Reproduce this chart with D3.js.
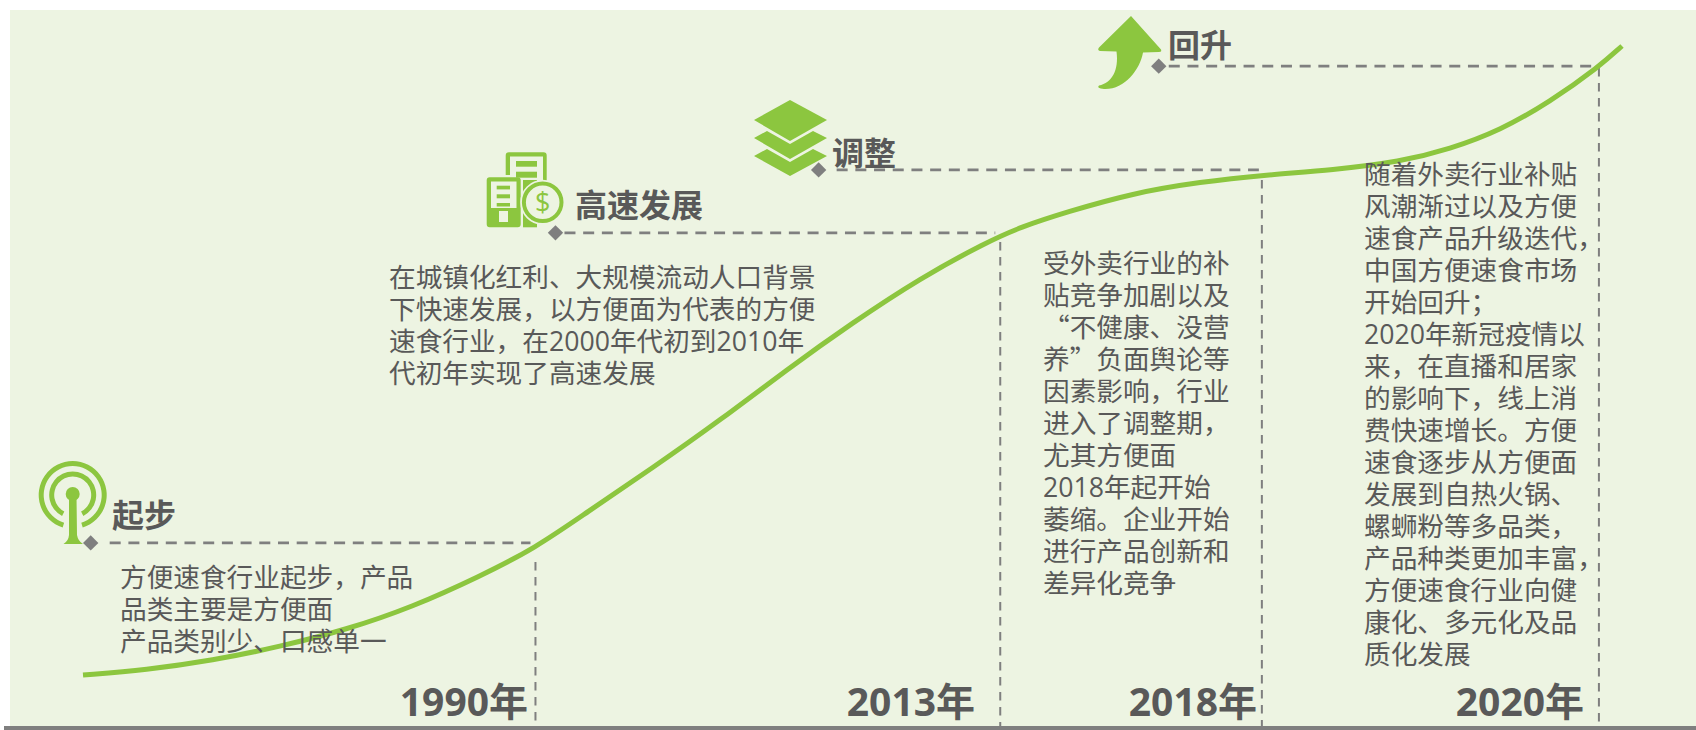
<!DOCTYPE html>
<html>
<head>
<meta charset="utf-8">
<script src="https://cdn.jsdelivr.net/npm/d3@7"></script>
<style>
    html, body { margin: 0; padding: 0; background: #fff; overflow: hidden; }
    svg { display: block; }
    text { font-family: "Open Sans", "Noto Sans CJK SC", sans-serif; fill: #595959; }
    .body-text { font-size: 26.67px; }
    .body-text.quoted { font-family: "Noto Sans CJK SC", sans-serif; }
    .phase-title { font-size: 32px; font-weight: 700; }
    .year-label { font-size: 39px; font-weight: 700; text-anchor: end; }
</style>
</head>
<body>
<svg id="chart"></svg>
<script>
const curveX = [0, 4.1, 8.4, 12.8, 17.1, 21.4, 25.8, 29.4, 32.7, 37, 41.4, 45.7, 50, 54.4, 58.7, 60.9, 63.9, 68.2, 72.6, 76.9, 81.2, 85.6, 88.8, 92.1, 95.3, 98.5, 100];
const curveY = [0, 0.8, 2.3, 4.5, 7.2, 10.8, 15.7, 20.2, 25.8, 32.9, 40.5, 48.5, 56, 63.1, 68.8, 71.2, 73.6, 76.6, 78.4, 79.5, 80.3, 81.6, 83.6, 86.6, 91.1, 96.7, 100];

const phaseNames = ['起步', '高速发展', '调整', '回升'];
const phaseYears = ['1990年', '2013年', '2018年', '2020年'];
// where each phase ends on the curve
const phaseEndX = [29.4, 59.6, 76.6, 98.5];
const phaseLevel = [21, 70.3, 80.3, 96.8];
// where the leader line of each phase starts
const phaseStartX = [0.5, 30.7, 47.8, 69.9];

const phaseText = [
    ['方便速食行业起步，产品', '品类主要是方便面', '产品类别少、口感单一'],
    ['在城镇化红利、大规模流动人口背景', '下快速发展，以方便面为代表的方便', '速食行业，在2000年代初到2010年', '代初年实现了高速发展'],
    ['受外卖行业的补', '贴竞争加剧以及', '“不健康、没营', '养”负面舆论等', '因素影响，行业', '进入了调整期，', '尤其方便面', '2018年起开始', '萎缩。企业开始', '进行产品创新和', '差异化竞争'],
    ['随着外卖行业补贴', '风潮渐过以及方便', '速食产品升级迭代，', '中国方便速食市场', '开始回升；', '2020年新冠疫情以', '来，在直播和居家', '的影响下，线上消', '费快速增长。方便', '速食逐步从方便面', '发展到自热火锅、', '螺蛳粉等多品类，', '产品种类更加丰富，', '方便速食行业向健', '康化、多元化及品', '质化发展']
];

const config = {
    width: 1696, height: 730,
    panel: {x: 10, y: 10},
    baseY: 726,
    lineHeight: 32,
    green: '#8cc63f',
    grey: '#7f7f7f',
    panelFill: '#edf4e2',
    // label offsets per phase
    titlePos: [[112, 515], [575, 205], [832, 153], [1168, 45]],
    yearRight: [528, 975, 1257, 1584],
    yearBaseline: 716,
    textPos: [[120, 577], [389, 277], [1043, 263], [1364, 174]],
    dropTop: [562, 242, 180, 68],
    leaderStart: [19, 9, 18, 10],
    leaderGap: [5, 5, 3, 0]
};

const svg = d3.select('#chart')
    .attr('width', config.width)
    .attr('height', config.height);

const xScale = d3.scaleLinear().domain([0, 100]).range([83, 1622]);
const yScale = d3.scaleLinear().domain([0, 100]).range([675, 46]);

// panel + base line
svg.append('rect')
    .attr('x', config.panel.x).attr('y', config.panel.y)
    .attr('width', config.width - config.panel.x)
    .attr('height', config.baseY - config.panel.y)
    .attr('fill', config.panelFill);
svg.append('rect')
    .attr('x', 4).attr('y', config.baseY)
    .attr('width', config.width - 4).attr('height', 4)
    .attr('fill', config.grey);

// vertical drop lines
svg.selectAll('.drop')
    .data(phaseEndX)
    .join('line')
    .attr('class', 'drop')
    .attr('x1', d => xScale(d)).attr('x2', d => xScale(d))
    .attr('y1', (d, i) => config.dropTop[i])
    .attr('y2', config.baseY)
    .attr('stroke', config.grey).attr('stroke-width', 2)
    .attr('stroke-dasharray', '8.5 6.5');

// horizontal leaders
svg.selectAll('.leader')
    .data(phaseEndX)
    .join('line')
    .attr('class', 'leader')
    .attr('x1', (d, i) => xScale(phaseStartX[i]) + config.leaderStart[i])
    .attr('x2', (d, i) => xScale(d) - config.leaderGap[i])
    .attr('y1', (d, i) => yScale(phaseLevel[i]))
    .attr('y2', (d, i) => yScale(phaseLevel[i]))
    .attr('stroke', config.grey).attr('stroke-width', 2.7)
    .attr('stroke-dasharray', '11 7.7');

svg.selectAll('.marker')
    .data(phaseStartX)
    .join('path')
    .attr('class', 'marker')
    .attr('d', d3.symbol(d3.symbolSquare, 118))
    .attr('transform', (d, i) => `translate(${xScale(d)},${yScale(phaseLevel[i])}) rotate(45)`)
    .attr('fill', config.grey);

// trend curve
const line = d3.line()
    .x((d, i) => xScale(curveX[i]))
    .y(d => yScale(d))
    .curve(d3.curveBasis);
svg.append('path')
    .attr('d', line(curveY))
    .attr('fill', 'none')
    .attr('stroke', config.green)
    .attr('stroke-width', 5);

// titles, years, body text
svg.selectAll('.phase-title')
    .data(phaseNames)
    .join('text')
    .attr('class', 'phase-title')
    .attr('x', (d, i) => config.titlePos[i][0])
    .attr('y', (d, i) => config.titlePos[i][1])
    .attr('dy', '0.36em')
    .text(d => d);

svg.selectAll('.year-label')
    .data(phaseYears)
    .join('text')
    .attr('class', 'year-label')
    .attr('x', (d, i) => config.yearRight[i])
    .attr('y', config.yearBaseline)
    .text(d => d);

phaseText.forEach((lines, i) => {
    svg.append('g').selectAll('text')
        .data(lines)
        .join('text')
        .attr('class', d => /[“”]/.test(d) ? 'body-text quoted' : 'body-text')
        .attr('x', config.textPos[i][0])
        .attr('y', (d, j) => config.textPos[i][1] + j * config.lineHeight)
        .attr('dy', '0.36em')
        .text(d => d);
});

// icons
const icons = svg.append('g').attr('fill', config.green);

// antenna
const arc = d3.arc();
[[29, 34, 0.3], [18.5, 23.5, 0.47]].forEach(r => {
    icons.append('path')
        .attr('transform', 'translate(72.7,495)')
        .attr('d', arc({innerRadius: r[0], outerRadius: r[1], startAngle: Math.PI + r[2], endAngle: 3 * Math.PI - r[2]}));
});
icons.append('circle').attr('cx', 72.7).attr('cy', 494).attr('r', 7);
icons.append('path').attr('d', 'M69,496 L76.5,496 L77,535 Q78,541 83,544 L63.5,544 Q68.5,541 69,535 Z');

// building + coin
icons.append('path')
    .attr('d', 'M509,152.3 H543.5 Q546.7,152.3 546.7,155.5 V183 H543 V156.5 H510 V175 H505.7 V155.5 Q505.7,152.3 509,152.3 Z');
icons.append('rect').attr('x', 516).attr('y', 161).attr('width', 21).attr('height', 5.7);
icons.append('rect').attr('x', 516).attr('y', 171.7).attr('width', 21).attr('height', 6);
icons.append('rect').attr('x', 523).attr('y', 180).attr('width', 14).attr('height', 47.3);
icons.append('path').attr('fill-rule', 'evenodd')
    .attr('d', 'M489.7,177.3 H517.7 Q520.7,177.3 520.7,180.3 V224.3 Q520.7,227.3 517.7,227.3 H489.7 Q486.7,227.3 486.7,224.3 V180.3 Q486.7,177.3 489.7,177.3 Z M491,181.5 V208 H516.5 V181.5 Z M499,211 V222 H508 V211 Z');
icons.append('rect').attr('x', 496.7).attr('y', 185.7).attr('width', 13.3).attr('height', 3.7);
icons.append('rect').attr('x', 496.7).attr('y', 194.3).attr('width', 13.3).attr('height', 4);
icons.append('rect').attr('x', 496.7).attr('y', 203).attr('width', 13.3).attr('height', 3.5);
icons.append('circle').attr('cx', 542.7).attr('cy', 202.3).attr('r', 19)
    .attr('fill', config.panelFill).attr('stroke', config.panelFill).attr('stroke-width', 7);
icons.append('circle').attr('cx', 542.7).attr('cy', 202.3).attr('r', 18.8)
    .attr('fill', 'none').attr('stroke', config.green).attr('stroke-width', 4);
icons.append('text').attr('x', 542.7).attr('y', 212).attr('text-anchor', 'middle')
    .style('font-size', '27px').style('fill', config.green).text('$');

// layers
icons.append('path').attr('d', 'M790,100 L827,120 L790,141 L754,120 Z');
icons.append('path').attr('d', 'M767,131 L790,144 L813,131 L827,138 L790,159 L754,138 Z');
icons.append('path').attr('d', 'M767,149 L790,162 L813,149 L827,156 L790,176 L754,156 Z');

// up arrow
icons.append('path').attr('d', 'M1131,16 L1161,49.5 Q1162,52 1159,52 L1143,52.5 C1140,70 1124,90 1104,89 Q1096,88 1099,85.5 C1112,83 1119,70 1116.5,51.5 L1100,51 Q1097,50 1099,47.5 Z');
</script>
</body>
</html>
